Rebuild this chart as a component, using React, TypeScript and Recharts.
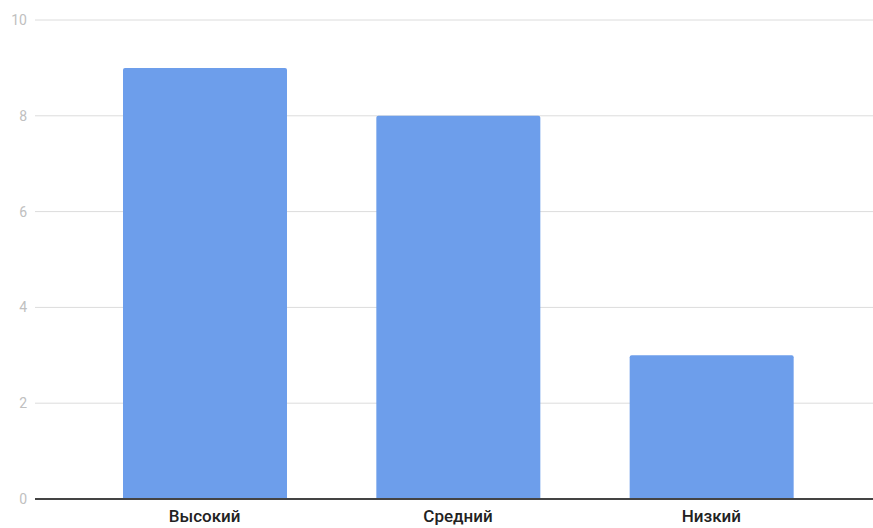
import { BarChart, Bar, XAxis, YAxis, CartesianGrid } from "recharts";

const categories = ["Высокий", "Средний", "Низкий"];
const values = [9, 8, 3];
const yTicks = [0, 2, 4, 6, 8, 10];

const data = categories.map((name, i) => ({ name, value: values[i] }));

export default function App() {
  return (
    <div style={{ position: "absolute", left: 0, top: 0, background: "#fff" }}>
      <BarChart
        width={873}
        height={528}
        data={data}
        margin={{ top: 20, right: 0, bottom: 0, left: 0 }}
      >
        <CartesianGrid vertical={false} stroke="#dcdcdc" strokeWidth={1} />
        <XAxis
          dataKey="name"
          height={29}
          padding={{ left: 43, right: 35 }}
          tickLine={false}
          axisLine={{ stroke: "#444", strokeWidth: 2 }}
          tick={{
            fontSize: 17,
            fill: "#222",
            fontWeight: 500,
            fontFamily: "Roboto, Arial, sans-serif",
            dy: 5,
          }}
          tickMargin={0}
        />
        <YAxis
          width={35}
          domain={[0, 10]}
          ticks={yTicks}
          axisLine={false}
          tickLine={false}
          tick={{ fontSize: 14, fill: "#c0c0c0", fontFamily: "Roboto, Arial, sans-serif" }}
        />
        <Bar
          dataKey="value"
          fill="#6d9eeb"
          barSize={164}
          radius={[2, 2, 0, 0]}
          isAnimationActive={false}
        />
      </BarChart>
    </div>
  );
}
